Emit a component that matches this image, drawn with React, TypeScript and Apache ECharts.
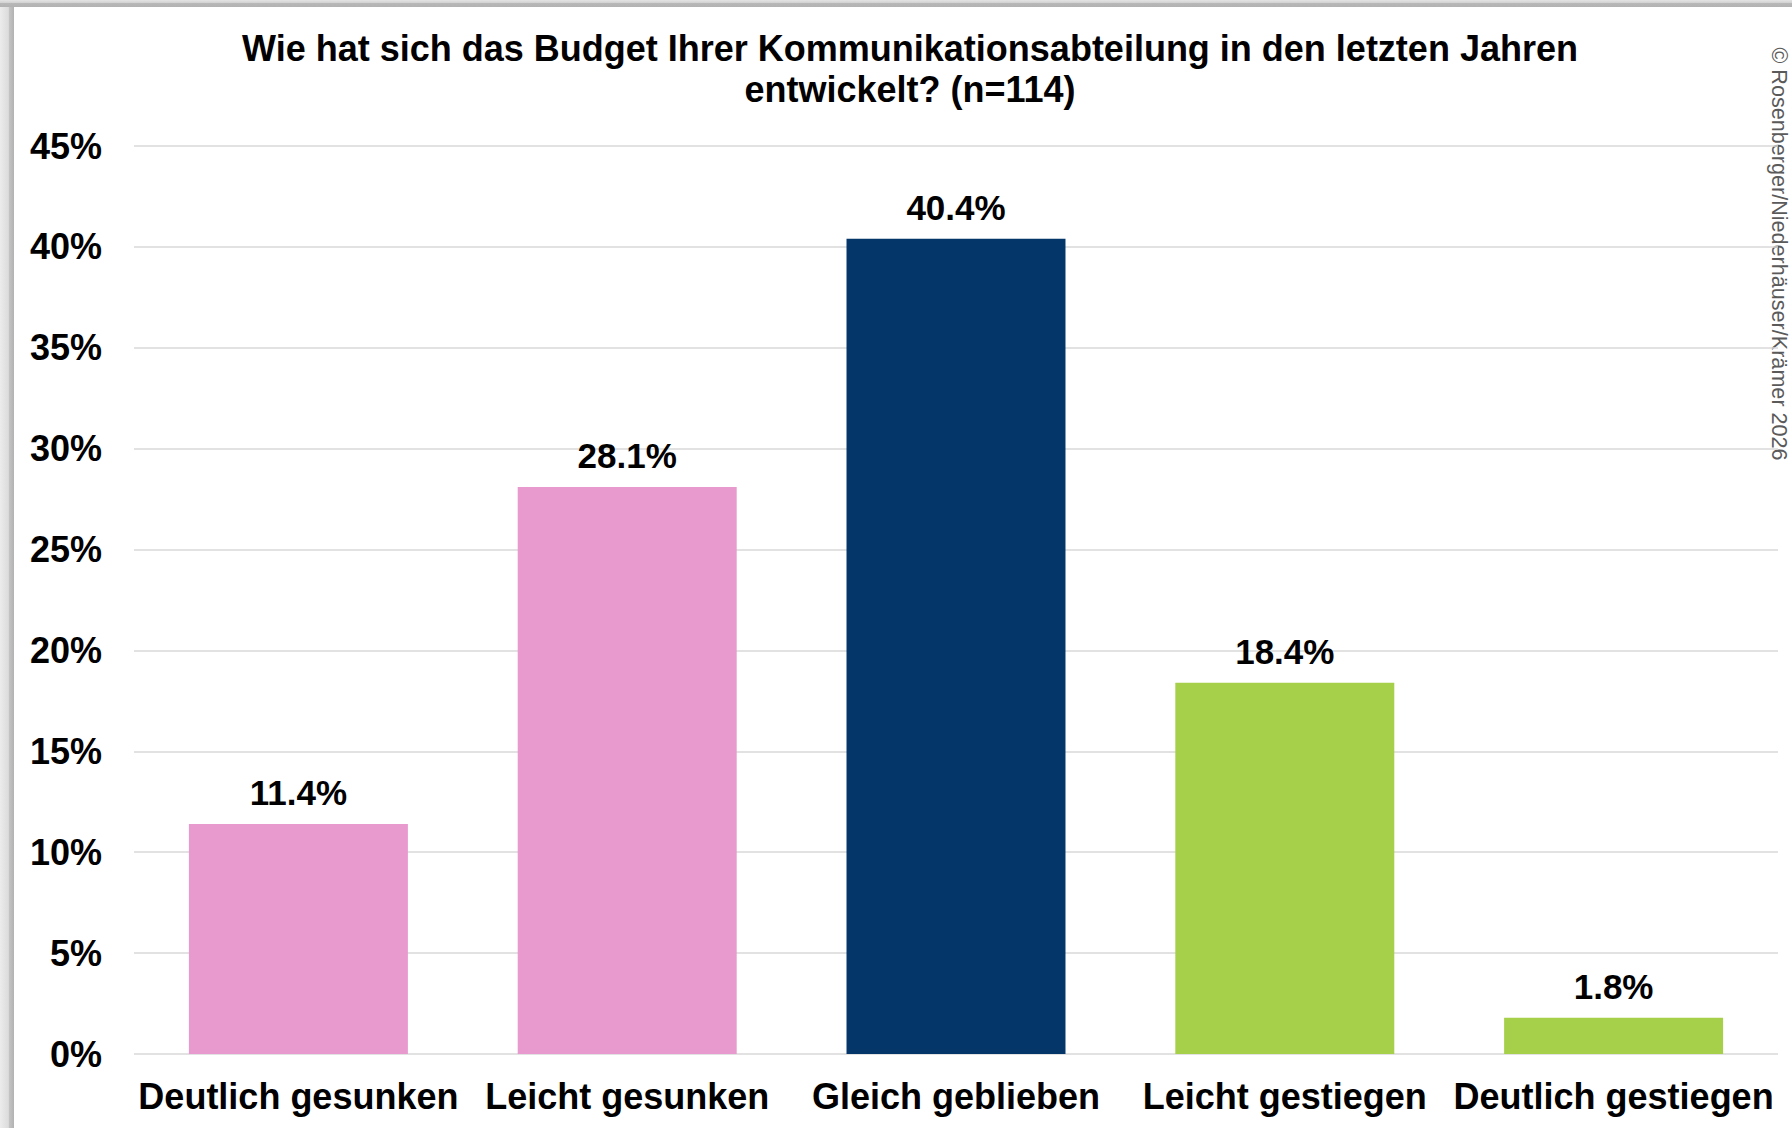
import React, { useEffect, useRef } from "react";
import * as echarts from "echarts";

const categories = [
  "Deutlich gesunken",
  "Leicht gesunken",
  "Gleich geblieben",
  "Leicht gestiegen",
  "Deutlich gestiegen",
];
const values = [11.4, 28.1, 40.4, 18.4, 1.8];
const barColors = ["#E899CE", "#E899CE", "#05366A", "#A6D049", "#A6D049"];
const titleText =
  "Wie hat sich das Budget Ihrer Kommunikationsabteilung in den letzten Jahren\nentwickelt? (n=114)";
const copyrightText = "© Rosenberger/Niederhäuser/Krämer 2026";

const FONT = "'Liberation Sans', Arial, Helvetica, sans-serif";

export default function App() {
  const ref = useRef<HTMLDivElement>(null);
  useEffect(() => {
    document.body.style.margin = "0";
    if (!ref.current) return;
    const chart = echarts.init(ref.current, undefined, { renderer: "svg" });
    chart.setOption({
      animation: false,
      backgroundColor: "#ffffff",
      grid: { left: 134, right: 14, top: 146, bottom: 74, containLabel: false },
      xAxis: {
        type: "category",
        data: categories,
        axisLine: { show: false },
        axisTick: { show: false },
        axisLabel: {
          color: "#000",
          fontFamily: FONT,
          fontWeight: "bold",
          fontSize: 36,
          margin: 24,
          interval: 0,
        },
      },
      yAxis: {
        type: "value",
        min: 0,
        max: 45,
        interval: 5,
        axisLine: { show: false },
        axisTick: { show: false },
        axisLabel: {
          formatter: "{value}%",
          color: "#000",
          fontFamily: FONT,
          fontWeight: "bold",
          fontSize: 36,
          margin: 32,
        },
        splitLine: { show: true, lineStyle: { color: "#d9d9d9", width: 1.5 } },
      },
      series: [
        {
          type: "bar",
          barCategoryGap: "33.4%",
          data: values.map((v, i) => ({ value: v, itemStyle: { color: barColors[i] } })),
          label: {
            show: true,
            position: "top",
            distance: 14,
            formatter: (p: any) => p.value.toFixed(1) + "%",
            color: "#000",
            fontFamily: FONT,
            fontWeight: "bold",
            fontSize: 35,
          },
        },
      ],
      graphic: [
        {
          type: "rect",
          shape: { x: 0, y: 0, width: 14, height: 1128 },
          style: {
            fill: new echarts.graphic.LinearGradient(0, 0, 1, 0, [
              { offset: 0, color: "#ececec" },
              { offset: 0.6, color: "#dcdcdc" },
              { offset: 0.65, color: "#c4c4c4" },
              { offset: 1, color: "#b2b2b2" },
            ]),
          },
          z: 10,
        },
        {
          type: "rect",
          shape: { x: 0, y: 0, width: 1792, height: 7 },
          style: {
            fill: new echarts.graphic.LinearGradient(0, 0, 0, 1, [
              { offset: 0, color: "#e4e4e4" },
              { offset: 0.4, color: "#d2d2d2" },
              { offset: 0.45, color: "#b8b8b8" },
              { offset: 1, color: "#b2b2b2" },
            ]),
          },
          z: 10,
        },
        {
          type: "text",
          x: 910,
          y: 68.5,
          style: {
            text: titleText,
            fill: "#000",
            font: `bold 36px ${FONT}`,
            align: "center",
            verticalAlign: "middle",
            lineHeight: 41,
          },
        },
        {
          type: "text",
          x: 1779,
          y: 254,
          rotation: -Math.PI / 2,
          style: {
            text: copyrightText,
            fill: "#5a5a5a",
            font: `21.6px ${FONT}`,
            align: "center",
            verticalAlign: "middle",
          },
        },
      ],
    });
    return () => chart.dispose();
  }, []);
  return (
    <div
      ref={ref}
      style={{ position: "absolute", left: 0, top: 0, width: 1792, height: 1128 }}
    />
  );
}
